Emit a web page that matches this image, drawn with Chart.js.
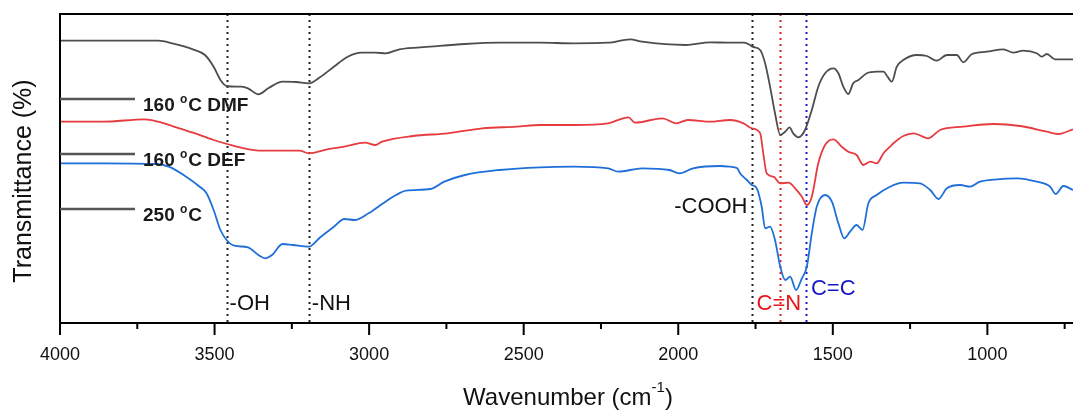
<!DOCTYPE html>
<html>
<head>
<meta charset="utf-8">
<title>FTIR spectra</title>
<script src="https://cdn.jsdelivr.net/npm/chart.js@4.4.1/dist/chart.umd.min.js"></script>
<style>
  html, body { margin: 0; padding: 0; background: #fff; }
  #wrap { width: 1073px; height: 415px; }
</style>
</head>
<body>
<div id="wrap"><canvas id="ftirChart" width="1073" height="415"></canvas></div>
<script>
// Spectra (wavenumber in cm-1, transmittance in arbitrary offset units)
const dmfWave = [4000, 3682, 3637, 3570, 3531, 3503, 3481, 3461, 3414, 3392, 3358, 3325, 3280, 3236, 3195, 3159, 3114, 3069, 3024, 2980, 2946, 2902, 2802, 2690, 2579, 2447, 2337, 2227, 2156, 2117, 1975, 1897, 1832, 1787, 1768, 1760, 1735, 1719, 1703, 1687, 1670, 1654, 1640, 1628, 1611, 1590, 1568, 1547, 1525, 1498, 1482, 1466, 1450, 1434, 1417, 1390, 1358, 1336, 1323, 1309, 1293, 1272, 1228, 1196, 1164, 1131, 1099, 1078, 1050, 1002, 948, 916, 884, 840, 824, 808, 781, 723];
const dmfT = [282.3, 282.3, 279.7, 273.7, 268, 256.3, 243, 237, 236.3, 234.7, 228.7, 235, 241.3, 241, 239.7, 245.7, 256.3, 266.3, 270.3, 270.3, 269.7, 273.7, 276.3, 279, 280.3, 280.3, 279.7, 280.3, 283.7, 281.3, 278, 280.7, 280.3, 280.3, 278, 276.3, 273, 259.7, 236.3, 209.7, 188, 191.3, 195.7, 189.7, 185.7, 193, 213, 236.3, 249.7, 254.7, 249.7, 236.3, 229, 239.7, 243, 249.7, 251.3, 251.3, 246.3, 241.3, 256.3, 263, 268, 267, 262.3, 268, 268, 260.7, 269, 271.3, 273.7, 270.3, 272.3, 269.7, 266.3, 269, 263.7, 263.7];

const defWave = [4000, 3860, 3726, 3682, 3637, 3570, 3503, 3459, 3414, 3347, 3280, 3225, 3195, 3136, 3080, 3013, 2980, 2958, 2857, 2746, 2634, 2523, 2447, 2337, 2227, 2161, 2140, 2051, 2007, 1969, 1897, 1832, 1789, 1762, 1735, 1725, 1714, 1692, 1670, 1643, 1622, 1600, 1584, 1568, 1547, 1525, 1498, 1471, 1450, 1423, 1401, 1379, 1358, 1336, 1315, 1304, 1272, 1239, 1191, 1153, 1078, 981, 894, 808, 772, 723];
const defT = [201.3, 201.3, 203.7, 201.3, 197, 190.3, 183, 179, 175.3, 172.3, 172.3, 172.3, 169.7, 173.7, 176.3, 180.3, 178, 181.3, 187, 189.7, 194.7, 196.3, 198, 198, 199.7, 205.7, 200.3, 204.7, 199.7, 203, 201.3, 203, 199.7, 194.7, 189.7, 169.7, 149.7, 146.3, 139.7, 140.3, 134.7, 126.3, 118, 126.3, 159.7, 178, 183.7, 176.3, 171.3, 168, 158, 161.3, 159.7, 169.7, 176.3, 179.7, 187, 189.7, 184.7, 193, 196.3, 199, 197, 191.3, 189, 193.7];

const hotWave = [4000, 3860, 3693, 3648, 3592, 3548, 3526, 3503, 3481, 3461, 3436, 3392, 3358, 3336, 3314, 3280, 3247, 3195, 3158, 3114, 3080, 3047, 3002, 2958, 2913, 2880, 2802, 2757, 2690, 2579, 2447, 2337, 2227, 2194, 2117, 2029, 1996, 1952, 1864, 1832, 1809, 1800, 1778, 1762, 1746, 1730, 1719, 1703, 1687, 1670, 1654, 1638, 1619, 1600, 1584, 1568, 1552, 1525, 1503, 1482, 1463, 1444, 1423, 1404, 1385, 1358, 1315, 1272, 1218, 1185, 1158, 1131, 1088, 1056, 1024, 970, 905, 840, 797, 779, 754, 723];
const hotT = [159.7, 159.7, 159, 156.3, 146.3, 136.3, 129.7, 113, 93, 83, 77.3, 75.7, 68, 64.7, 68, 79, 78, 76.3, 85.7, 96.3, 104, 103, 109.7, 119, 128, 132.3, 134, 141.3, 148, 153, 155.7, 156.3, 154.7, 151.3, 154.7, 153, 149.7, 154.7, 157, 156.3, 154.7, 149.7, 143, 138, 134.7, 116.3, 94.7, 96.3, 83, 56.3, 43, 46.3, 33, 44.7, 56.3, 89.7, 116.3, 128, 121.3, 99.7, 84.7, 91.3, 98, 93, 119.7, 128, 136.3, 140.3, 139.7, 133, 124, 134.7, 138, 136.3, 141.3, 143.7, 144.7, 141.3, 136.3, 129, 137, 133];

const majorTicks = [4000, 3500, 3000, 2500, 2000, 1500, 1000];
const minorTicks = [3750, 3250, 2750, 2250, 1750, 1250, 750];

// band markers: wavenumber, label, colour
const markerWaves = [3461, 3195, 1763, 1671, 1587];
const markerLabels = ['-OH', '-NH', '-COOH', 'C=N', 'C=C'];
const markerColors = ['#111', '#111', '#111', '#e8141c', '#1515c8'];

const seriesNames = ['160', '160', '250'];
const seriesSuffix = ['C DMF', 'C DEF', 'C'];
const seriesColors = ['#4d4d4d', '#e63b3f', '#1f6fd8'];

const FONT = "'Liberation Sans', Arial, sans-serif";

const toPoints = (xs, ys) => xs.map((x, i) => ({ x: x, y: ys[i] }));

// frame, ticks, marker lines and the texts
const decorPlugin = {
    id: 'decor',
    beforeDatasetsDraw(chart) {
        const { ctx, chartArea: a, scales: { x } } = chart;
        ctx.save();
        ctx.lineWidth = 2;
        ctx.setLineDash([2, 4]);
        markerWaves.forEach((w, i) => {
            const px = Math.round(x.getPixelForValue(w)) + 0.5;
            ctx.strokeStyle = i === 3 ? '#e02020' : (i === 4 ? '#1a1ad0' : '#222');
            ctx.beginPath();
            ctx.moveTo(px, a.top);
            ctx.lineTo(px, a.bottom);
            ctx.stroke();
        });
        ctx.restore();
    },
    afterDatasetsDraw(chart) {
        const { ctx, chartArea: a, scales: { x } } = chart;
        ctx.save();
        // box
        ctx.strokeStyle = '#000';
        ctx.lineWidth = 2;
        ctx.beginPath();
        ctx.moveTo(a.right + 2, a.top);
        ctx.lineTo(a.left, a.top);
        ctx.lineTo(a.left, a.bottom);
        ctx.lineTo(a.right + 2, a.bottom);
        ctx.stroke();
        // ticks
        majorTicks.forEach(v => {
            const px = x.getPixelForValue(v);
            ctx.beginPath(); ctx.moveTo(px, a.bottom); ctx.lineTo(px, a.bottom + 12); ctx.stroke();
        });
        minorTicks.forEach(v => {
            const px = x.getPixelForValue(v);
            ctx.beginPath(); ctx.moveTo(px, a.bottom); ctx.lineTo(px, a.bottom + 6); ctx.stroke();
        });

        // band labels
        ctx.font = '22px ' + FONT;
        ctx.textBaseline = 'alphabetic';
        const px = markerWaves.map(w => x.getPixelForValue(w));
        ctx.fillStyle = markerColors[0];
        ctx.textAlign = 'left';
        ctx.fillText(markerLabels[0], px[0] + 3, a.top + 296);
        ctx.fillStyle = markerColors[1];
        ctx.fillText(markerLabels[1], px[1] + 3, a.top + 296);
        ctx.fillStyle = markerColors[2];
        ctx.textAlign = 'right';
        ctx.fillText(markerLabels[2], px[2] - 4, a.top + 199);
        ctx.fillStyle = markerColors[3];
        ctx.textAlign = 'left';
        ctx.fillText(markerLabels[3], px[2] + 5, a.top + 296);
        ctx.fillStyle = markerColors[4];
        ctx.fillText(markerLabels[4], px[4] + 5, a.top + 281);

        // series labels with short gray lines
        const rows = [99, 154, 209];
        rows.forEach((ry, i) => {
            ctx.strokeStyle = '#555';
            ctx.lineWidth = 2.5;
            ctx.beginPath();
            ctx.moveTo(a.left, ry);
            ctx.lineTo(a.left + 75, ry);
            ctx.stroke();
            ctx.fillStyle = '#1a1a1a';
            ctx.textAlign = 'left';
            let tx = a.left + 83;
            ctx.font = 'bold 19px ' + FONT;
            const head = seriesNames[i] + ' ';
            ctx.fillText(head, tx, ry + 12);
            tx += ctx.measureText(head).width;
            ctx.font = 'bold 12px ' + FONT;
            ctx.fillText('o', tx, ry + 4);
            tx += ctx.measureText('o').width + 1;
            ctx.font = 'bold 19px ' + FONT;
            ctx.fillText(seriesSuffix[i], tx, ry + 12);
        });

        // y title
        ctx.fillStyle = '#111';
        ctx.font = '25px ' + FONT;
        ctx.textAlign = 'center';
        ctx.textBaseline = 'middle';
        ctx.translate(24, 181);
        ctx.rotate(-Math.PI / 2);
        ctx.fillText('Transmittance (%)', 0, 0);
        ctx.setTransform(1, 0, 0, 1, 0, 0);

        // x title with superscript
        ctx.textBaseline = 'alphabetic';
        ctx.textAlign = 'left';
        const main = 'Wavenumber (cm';
        ctx.font = '24px ' + FONT;
        const w1 = ctx.measureText(main).width;
        ctx.font = '15px ' + FONT;
        const w2 = ctx.measureText('-1').width;
        ctx.font = '24px ' + FONT;
        const w3 = ctx.measureText(')').width;
        let sx = 568 - (w1 + w2 + w3) / 2;
        ctx.fillText(main, sx, 405);
        ctx.font = '15px ' + FONT;
        ctx.fillText('-1', sx + w1, 392);
        ctx.font = '24px ' + FONT;
        ctx.fillText(')', sx + w1 + w2, 405);
        ctx.restore();
    }
};

const makeSet = (label, xs, ys, color) => ({
    label: label,
    data: toPoints(xs, ys),
    borderColor: color,
    backgroundColor: color,
    borderWidth: 1.8,
    pointRadius: 0,
    cubicInterpolationMode: 'monotone',
    fill: false
});

const initFtirChart = () => {
    const ctx = document.getElementById('ftirChart').getContext('2d');
    new Chart(ctx, {
        type: 'line',
        data: {
            datasets: [
                makeSet('160 oC DMF', dmfWave, dmfT, seriesColors[0]),
                makeSet('160 oC DEF', defWave, defT, seriesColors[1]),
                makeSet('250 oC', hotWave, hotT, seriesColors[2])
            ]
        },
        options: {
            responsive: false,
            animation: false,
            layout: { padding: { left: 60, top: 14, right: 0, bottom: 0 } },
            plugins: {
                legend: { display: false },
                tooltip: { enabled: false }
            },
            scales: {
                x: {
                    type: 'linear',
                    reverse: true,
                    min: 723,
                    max: 4000,
                    afterBuildTicks: (s) => { s.ticks = majorTicks.map(v => ({ value: v })); },
                    afterFit: (s) => { s.height = 92; },
                    grid: { display: false, drawTicks: false },
                    border: { display: false },
                    ticks: {
                        color: '#111',
                        font: { family: FONT, size: 18 },
                        padding: 21,
                        maxRotation: 0,
                        autoSkip: false,
                        callback: (v) => String(v)
                    }
                },
                y: { display: false, min: 0, max: 309 }
            }
        },
        plugins: [decorPlugin]
    });
};

document.addEventListener('DOMContentLoaded', initFtirChart);
</script>
</body>
</html>
